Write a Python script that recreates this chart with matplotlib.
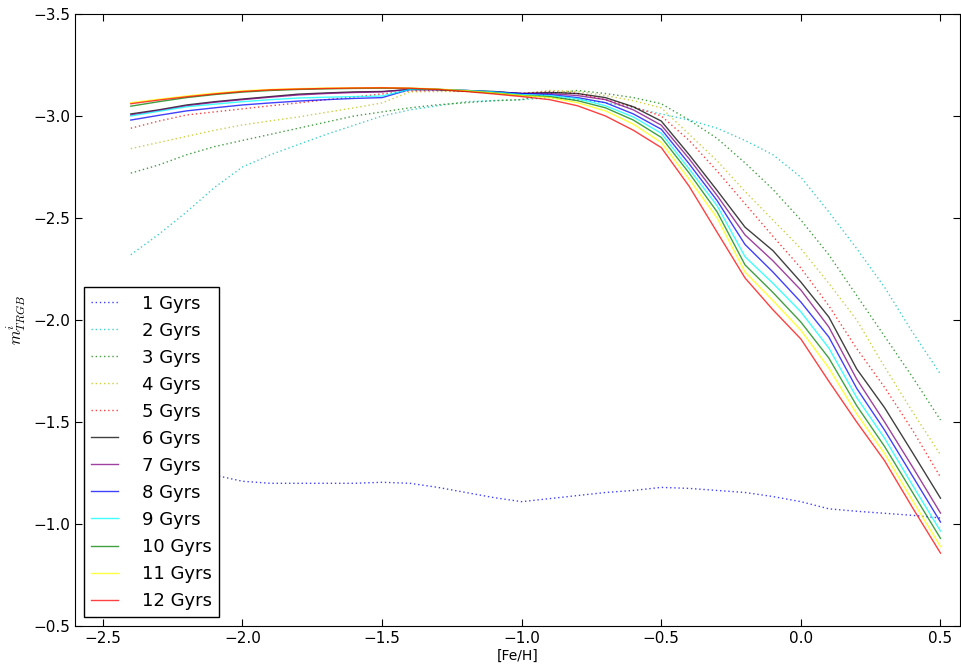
import matplotlib
matplotlib.use("Agg")
import matplotlib.pyplot as plt

# [Fe/H] grid
feh = [-2.4, -2.3, -2.2, -2.1, -2.0, -1.9, -1.8, -1.7, -1.6, -1.5,
       -1.4, -1.3, -1.2, -1.1, -1.0, -0.9, -0.8, -0.7, -0.6, -0.5,
       -0.4, -0.3, -0.2, -0.1, 0.0, 0.1, 0.2, 0.3, 0.4, 0.5]

# TRGB i-band magnitude per age
age_1 = [-1.36, -1.32, -1.28, -1.24, -1.21, -1.20, -1.20, -1.20, -1.20, -1.205,
         -1.20, -1.18, -1.155, -1.13, -1.11, -1.125, -1.14, -1.155, -1.165, -1.18,
         -1.175, -1.165, -1.155, -1.135, -1.11, -1.075, -1.063, -1.053, -1.043, -1.03]
age_2 = [-2.32, -2.42, -2.53, -2.65, -2.75, -2.81, -2.86, -2.91, -2.955, -3.0,
         -3.03, -3.05, -3.07, -3.075, -3.08, -3.09, -3.08, -3.065, -3.04, -3.01,
         -2.98, -2.94, -2.88, -2.81, -2.70, -2.53, -2.35, -2.16, -1.94, -1.735]
age_3 = [-2.72, -2.76, -2.81, -2.85, -2.88, -2.91, -2.94, -2.97, -3.0, -3.02,
         -3.04, -3.055, -3.065, -3.075, -3.08, -3.11, -3.125, -3.11, -3.09, -3.06,
         -2.98, -2.89, -2.77, -2.64, -2.49, -2.32, -2.12, -1.92, -1.72, -1.51]
age_4 = [-2.84, -2.87, -2.90, -2.93, -2.956, -2.976, -2.995, -3.018, -3.04, -3.064,
         -3.118, -3.12, -3.12, -3.115, -3.11, -3.125, -3.12, -3.10, -3.075, -3.04,
         -2.91, -2.78, -2.63, -2.49, -2.35, -2.18, -2.0, -1.77, -1.55, -1.34]
age_5 = [-2.94, -2.975, -3.005, -3.02, -3.035, -3.05, -3.064, -3.08, -3.093, -3.108,
         -3.123, -3.125, -3.122, -3.117, -3.11, -3.12, -3.11, -3.08, -3.045, -3.0,
         -2.88, -2.73, -2.57, -2.41, -2.255, -2.07, -1.86, -1.67, -1.46, -1.23]
age_6 = [-3.01, -3.03, -3.054, -3.07, -3.083, -3.095, -3.107, -3.113, -3.118, -3.12,
         -3.13, -3.13, -3.125, -3.12, -3.11, -3.115, -3.11, -3.09, -3.045, -2.975,
         -2.81, -2.635, -2.455, -2.34, -2.186, -2.015, -1.76, -1.57, -1.35, -1.127]
age_7 = [-3.005, -3.027, -3.05, -3.067, -3.08, -3.092, -3.103, -3.11, -3.115, -3.118,
         -3.13, -3.128, -3.122, -3.117, -3.11, -3.11, -3.10, -3.08, -3.03, -2.955,
         -2.79, -2.61, -2.417, -2.29, -2.147, -1.966, -1.71, -1.50, -1.28, -1.054]
age_8 = [-2.98, -3.003, -3.025, -3.04, -3.054, -3.064, -3.073, -3.08, -3.086, -3.09,
         -3.13, -3.13, -3.125, -3.118, -3.11, -3.105, -3.09, -3.065, -3.01, -2.935,
         -2.765, -2.585, -2.37, -2.235, -2.088, -1.917, -1.665, -1.46, -1.235, -1.01]
age_9 = [-3.0, -3.023, -3.045, -3.058, -3.07, -3.08, -3.088, -3.092, -3.095, -3.098,
         -3.13, -3.13, -3.125, -3.118, -3.105, -3.10, -3.085, -3.05, -2.995, -2.915,
         -2.74, -2.56, -2.31, -2.18, -2.04, -1.863, -1.62, -1.42, -1.19, -0.966]
age_10 = [-3.048, -3.07, -3.09, -3.105, -3.117, -3.125, -3.13, -3.133, -3.135, -3.136,
          -3.135, -3.13, -3.122, -3.112, -3.10, -3.095, -3.075, -3.04, -2.98, -2.895,
          -2.72, -2.53, -2.27, -2.135, -1.99, -1.814, -1.58, -1.38, -1.155, -0.93]
age_11 = [-3.065, -3.082, -3.098, -3.112, -3.123, -3.13, -3.134, -3.137, -3.138, -3.139,
          -3.137, -3.132, -3.124, -3.113, -3.10, -3.09, -3.065, -3.025, -2.96, -2.87,
          -2.69, -2.50, -2.235, -2.095, -1.95, -1.765, -1.54, -1.345, -1.115, -0.89]
age_12 = [-3.06, -3.078, -3.094, -3.108, -3.12, -3.128, -3.132, -3.135, -3.137, -3.138,
          -3.136, -3.13, -3.12, -3.108, -3.095, -3.08, -3.05, -3.0, -2.93, -2.845,
          -2.655, -2.43, -2.206, -2.05, -1.907, -1.70, -1.50, -1.31, -1.08, -0.858]

series = [age_1, age_2, age_3, age_4, age_5, age_6, age_7, age_8, age_9,
          age_10, age_11, age_12]
labels = ["1 Gyrs", "2 Gyrs", "3 Gyrs", "4 Gyrs", "5 Gyrs", "6 Gyrs",
          "7 Gyrs", "8 Gyrs", "9 Gyrs", "10 Gyrs", "11 Gyrs", "12 Gyrs"]

# old-style single-letter colours: dotted for young, solid for old
colors = ["#0000ff", "#00bfbf", "#008000", "#bfbf00", "#ff0000",
          "#000000", "#800080", "#0000ff", "#00ffff", "#008000", "#ffff00", "#ff0000"]
dotted = [True] * 5 + [False] * 7

plt.rcParams["mathtext.fontset"] = "cm"
plt.rcParams["xtick.direction"] = "in"
plt.rcParams["ytick.direction"] = "in"
plt.rcParams["xtick.top"] = True
plt.rcParams["ytick.right"] = True

fig = plt.figure(figsize=(9.61, 6.64), dpi=100)
ax = fig.add_axes([0.078, 0.057, 0.921, 0.922])

for ys, lab, c, dot in zip(series, labels, colors, dotted):
    line, = ax.plot(feh, ys, color=c, alpha=0.75, lw=1.0, label=lab)
    if dot:
        line.set_dashes((1, 2))  # classic-era dotted spacing

ax.set_xlim(-2.6, 0.57)
ax.set_ylim(-0.5, -3.5)
ax.set_xticks([-2.5, -2.0, -1.5, -1.0, -0.5, 0.0, 0.5])
ax.set_yticks([-3.5, -3.0, -2.5, -2.0, -1.5, -1.0, -0.5])
ax.tick_params(labelsize=11, length=5, width=0.8)
ax.set_xlabel("[Fe/H]", fontsize=10, labelpad=2)
ax.set_ylabel("$m^{i}_{TRGB}$", fontsize=12)

leg = ax.legend(loc="lower left", fontsize=13, fancybox=False, framealpha=1,
                edgecolor="black", handlelength=1.5, handletextpad=1.3,
                labelspacing=0.5, borderaxespad=0.5)
leg.get_frame().set_linewidth(1.0)

fig.savefig("out.png", dpi=100)
